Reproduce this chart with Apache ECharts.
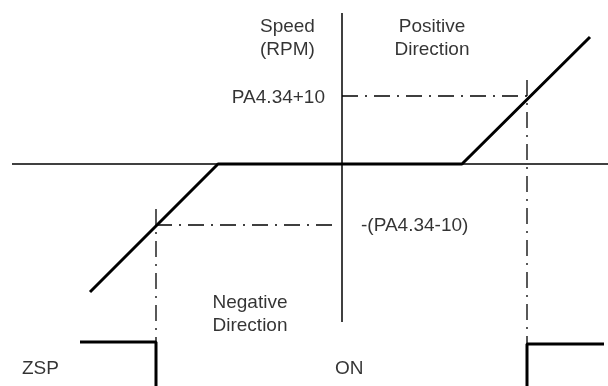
<!DOCTYPE html>
<html>
<head>
<meta charset="utf-8">
<script src="https://cdn.jsdelivr.net/npm/echarts@6/dist/echarts.min.js"></script>
<style>
  html, body { margin: 0; padding: 0; background: #fff; }
  #chart { width: 608px; height: 386px; }
</style>
</head>
<body>
<div id="chart"></div>
<script>
// speed curve: command (x) vs speed (y), origin at axis crossing
var speedCurve = [[-252, -128], [-124, 0], [120, 0], [248, 127]];

// axes of the diagram
var horizAxis = [[-330, 0], [266, 0]];
var vertAxis = [[0, 151], [0, -158]];

// thresholds
var posLevel = 68;      // PA4.34+10
var negLevel = -61;     // -(PA4.34-10)
var posCross = 185;
var negCross = -186;

// dash-dot guide lines
var posGuideH = [[0, posLevel], [posCross, posLevel]];
var posGuideV = [[posCross, 84], [posCross, -180]];
var negGuideH = [[negCross, negLevel], [-6, negLevel]];
var negGuideV = [[negCross, -45], [negCross, -178]];

// ZSP signal (low level lies below the picture)
var zspLeft = [[-262, -178], [negCross, -178], [negCross, -240]];
var zspRight = [[posCross, -240], [posCross, -180], [262, -180]];

// text labels: [x, y, text, align]
var labels = [
    [-82, 126, 'Speed\n(RPM)', 'left'],
    [90, 126, 'Positive\nDirection', 'center'],
    [-17, 66, 'PA4.34+10', 'right'],
    [19, -62, '-(PA4.34-10)', 'left'],
    [-92, -150, 'Negative\nDirection', 'center'],
    [-320, -205, 'ZSP', 'left'],
    [-7, -205, 'ON', 'left']
];

var chart = echarts.init(document.getElementById('chart'));

function lineSeries(data, width, type) {
    return {
        type: 'line',
        data: data,
        symbol: 'none',
        silent: true,
        clip: true,
        lineStyle: { color: '#000', width: width, type: type || 'solid', cap: 'butt' }
    };
}

// dash - dot - dash
var dashDot = [16, 7, 2, 7];

chart.setOption({
    animation: false,
    backgroundColor: '#fff',
    grid: { left: 0, right: 0, top: 0, bottom: 0 },
    xAxis: { type: 'value', min: -342, max: 266, show: false },
    yAxis: { type: 'value', min: -222, max: 164, show: false },
    series: [
        lineSeries(horizAxis, 1.5),
        lineSeries(vertAxis, 1.5),
        lineSeries(posGuideH, 1.3, dashDot),
        lineSeries(posGuideV, 1.3, dashDot),
        lineSeries(negGuideH, 1.3, dashDot),
        lineSeries(negGuideV, 1.3, dashDot),
        lineSeries(speedCurve, 3),
        lineSeries(zspLeft, 3),
        lineSeries(zspRight, 3),
        {
            type: 'scatter',
            symbolSize: 0,
            silent: true,
            data: labels.map(function (l) {
                return {
                    value: [l[0], l[1]],
                    label: {
                        show: true,
                        position: [0, 0],
                        formatter: l[2],
                        align: l[3],
                        verticalAlign: 'middle',
                        color: '#000',
                        fontFamily: 'Liberation Sans',
                        fontSize: 19,
                        lineHeight: 23
                    }
                };
            })
        }
    ]
});
</script>
</body>
</html>
